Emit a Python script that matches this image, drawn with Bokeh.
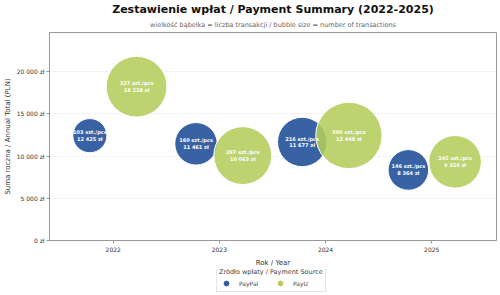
from bokeh.plotting import figure
from bokeh.layouts import column
from bokeh.models import (ColumnDataSource, Title, Legend, FixedTicker,
                          CustomJSTickFormatter, Range1d)
from bokeh.embed import file_html
from bokeh.resources import INLINE
from bokeh.core.properties import value

years = [2022, 2023, 2024, 2025]
paypal_count = [103, 160, 216, 146]
paypal_total = [12425, 11461, 11677, 8364]
payu_count = [327, 297, 390, 245]
payu_total = [18228, 10063, 12448, 9324]
sources = ["PayPal", "PayU"]
colors = ["#2e5a9f", "#b3cd5c"]

OFFSET = 0.22
SCALE = 3.36

def fmt(n):
    return f"{n:,}".replace(",", " ")

def make_source(offset, counts, totals):
    return ColumnDataSource(dict(
        x=[y + offset for y in years],
        y=totals,
        size=[SCALE * c ** 0.5 for c in counts],
        label=[f"{c} szt./pcs\n{fmt(t)} zł" for c, t in zip(counts, totals)],
    ))

src_pp = make_source(-OFFSET, paypal_count, paypal_total)
src_pu = make_source(OFFSET, payu_count, payu_total)

p = figure(width=500, height=269, output_backend="svg", toolbar_location=None,
           x_range=Range1d(2021.4, 2025.61), y_range=Range1d(0, 24650),
           min_border_left=4, min_border_right=4, min_border_top=0, min_border_bottom=0)

p.add_layout(Title(text="wielkość bąbelka = liczba transakcji / bubble size = number of transactions",
                   text_font_size="6.5px", text_color="#666666", align="center",
                   text_font_style="normal", text_font="DejaVu Sans",
                   standoff=7, offset=0), "above")
p.add_layout(Title(text="Zestawienie wpłat / Payment Summary (2022-2025)",
                   text_font_size="11px", text_font_style="bold", align="center",
                   text_font="DejaVu Sans", text_color="#111111", standoff=0), "above")

p.scatter("x", "y", size="size", source=src_pp, fill_color=colors[0],
          fill_alpha=0.95, line_color="white", line_width=1)
p.scatter("x", "y", size="size", source=src_pu, fill_color=colors[1],
          fill_alpha=0.88, line_color="white", line_width=1)

for src in (src_pp, src_pu):
    p.text("x", "y", text="label", source=src, text_color="white",
           text_font=value("DejaVu Sans"), text_font_style="bold",
           text_font_size="5px", text_align="center", text_baseline="middle",
           text_line_height=1.15)

p.xaxis.ticker = FixedTicker(ticks=years)
p.xaxis.axis_label = "Rok / Year"
p.yaxis.axis_label = "Suma roczna / Annual Total (PLN)"
p.yaxis.ticker = FixedTicker(ticks=[0, 5000, 10000, 15000, 20000])
p.yaxis.formatter = CustomJSTickFormatter(
    code="return tick.toFixed(0).replace(/\\B(?=(\\d{3})+(?!\\d))/g, ' ') + ' zł';")

for ax in (p.xaxis[0], p.yaxis[0]):
    ax.major_label_text_font_size = "6px"
    ax.major_label_text_font = "DejaVu Sans"
    ax.major_label_text_color = "#333333"
    ax.major_label_standoff = 2
    ax.axis_label_text_font_size = "7px"
    ax.axis_label_text_font = "DejaVu Sans"
    ax.axis_label_text_font_style = "normal"
    ax.axis_label_text_color = "#333333"
    ax.axis_line_color = "#999999"
    ax.major_tick_line_color = "#999999"
    ax.minor_tick_line_color = None
    ax.major_tick_out = 3
    ax.major_tick_in = 0
    ax.axis_label_standoff = 2
p.xaxis[0].major_label_standoff = 3
p.xaxis[0].axis_label_standoff = 4

p.xgrid.grid_line_color = None
p.ygrid.grid_line_color = "#e6e6e6"
p.ygrid.grid_line_dash = "2 2"
p.outline_line_color = "#999999"
p.outline_line_width = 1

# legend panel below the chart
lf = figure(width=500, height=26, output_backend="svg", toolbar_location=None,
            x_range=Range1d(0, 1), y_range=Range1d(0, 1),
            x_axis_type=None, y_axis_type=None,
            min_border_left=0, min_border_right=0, min_border_top=0, min_border_bottom=0)
lf.outline_line_color = None
lf.xgrid.grid_line_color = None
lf.ygrid.grid_line_color = None
items = []
for name, col in zip(sources, colors):
    r = lf.scatter(x=[float("nan")], y=[float("nan")], size=6, fill_color=col,
                   line_color=col)
    items.append((name, [r]))

legend = Legend(items=items, orientation="horizontal", location=(167, 3),
                title="Źródło wpłaty / Payment Source",
                title_text_font_size="6.5px", title_text_font_style="normal",
                title_text_font="DejaVu Sans", title_standoff=1,
                label_text_font_size="6px", label_text_font="DejaVu Sans",
                glyph_height=12, glyph_width=14, label_standoff=6,
                spacing=14, padding=2, margin=0,
                border_line_color="#cccccc")
lf.add_layout(legend, "center")

layout = column(p, lf, spacing=0)
open("out.html", "w").write(file_html(layout, INLINE))
